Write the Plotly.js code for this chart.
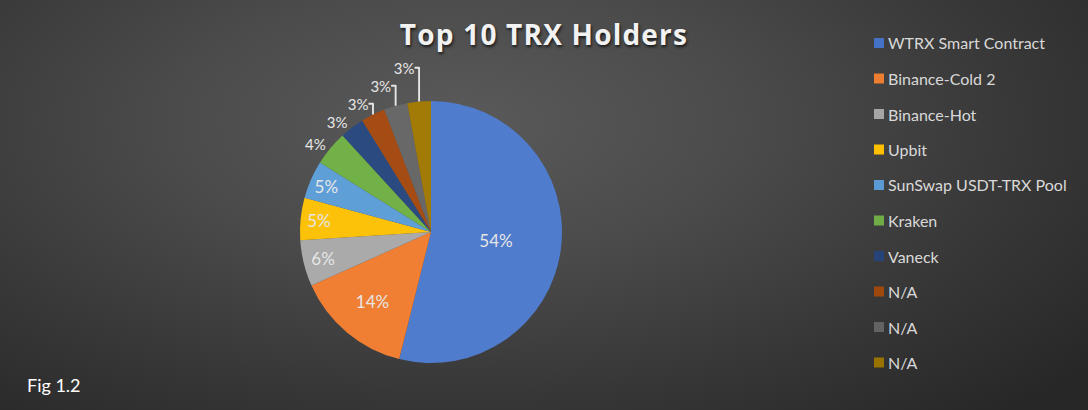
<!DOCTYPE html>
<html>
<head>
<meta charset="utf-8">
<script src="https://cdn.plot.ly/plotly-3.0.1.min.js"></script>
<style>
  html, body { margin: 0; padding: 0; }
  body {
    width: 1088px; height: 410px; overflow: hidden;
    background: radial-gradient(ellipse 75% 95% at 42% 30%, #5a5a5a 0%, #4b4b4b 35%, #373737 70%, #272727 100%);
  }
  #chart { width: 1088px; height: 410px; }
  .gtitle { letter-spacing: 1.2px; }
</style>
</head>
<body>
<div id="chart"></div>
<script>
// ---- data ----
const labels = ["WTRX Smart Contract", "Binance-Cold 2", "Binance-Hot", "Upbit",
  "SunSwap USDT-TRX Pool", "Kraken", "Vaneck", "N/A", "N/A ", "N/A  "];
const legendLabels = ["WTRX Smart Contract", "Binance-Cold 2", "Binance-Hot", "Upbit",
  "SunSwap USDT-TRX Pool", "Kraken", "Vaneck", "N/A", "N/A", "N/A"];
const shares = [53.9, 14.4, 5.7, 5.2, 4.7, 4.3, 3.0, 3.0, 2.9, 2.9];
const sliceColors = ["#4f7ccc", "#f07f33", "#aaaaaa", "#fcc20a", "#5e9fd8", "#72b048",
  "#2a4a80", "#a54c14", "#686868", "#a27a06"];
const legendColors = ["#4472c4", "#ed7d31", "#a5a5a5", "#ffc000", "#5b9bd5", "#70ad47",
  "#264478", "#9e480e", "#636363", "#997300"];
const textPos = ["inside", "inside", "inside", "inside", "inside",
  "outside", "outside", "outside", "outside", "outside"];

const W = 1088, H = 410;
const FONT = "Lato, 'Open Sans', sans-serif";

const trace = {
  type: "pie",
  labels: labels,
  values: shares,
  sort: false,
  direction: "clockwise",
  rotation: 0,
  marker: { colors: sliceColors, line: { width: 0 } },
  texttemplate: "%{percent:.0%}",
  textposition: textPos,
  insidetextorientation: "horizontal",
  textfont: { family: FONT, size: 17, color: "#e6e6e6" },
  outsidetextfont: { family: FONT, size: 15, color: "#e6e6e6" },
  insidetextfont: { family: FONT, size: 17, color: "#e6e6e6" },
  hoverinfo: "label+percent",
  showlegend: false,
  domain: { x: [300 / W, 562 / W], y: [(H - 363) / H, (H - 101) / H] },
  automargin: false
};

// legend built from arrays
const annotations = [];
const shapes = [];
const legendTop = 43, legendStep = 35.5;
legendLabels.forEach((lab, i) => {
  const yc = legendTop + i * legendStep;
  shapes.push({
    type: "rect", xref: "paper", yref: "paper",
    x0: 874 / W, x1: 884 / W, y0: (H - (yc + 5)) / H, y1: (H - (yc - 5)) / H,
    fillcolor: legendColors[i], line: { width: 0 }
  });
  annotations.push({
    xref: "paper", yref: "paper", x: 886 / W, y: (H - yc) / H,
    xanchor: "left", yanchor: "middle", showarrow: false,
    text: lab, font: { family: FONT, size: 16, color: "#d9d9d9" }
  });
});
annotations.push({
  xref: "paper", yref: "paper", x: 25 / W, y: (H - 385) / H,
  xanchor: "left", yanchor: "middle", showarrow: false,
  text: "Fig 1.2", font: { family: FONT, size: 18, color: "#ffffff" }
});

const layout = {
  width: W, height: H,
  margin: { l: 0, r: 0, t: 0, b: 0 },
  paper_bgcolor: "rgba(0,0,0,0)",
  plot_bgcolor: "rgba(0,0,0,0)",
  title: {
    text: "<b>Top 10 TRX Holders</b>",
    x: 0.5, xanchor: "center", xref: "paper",
    y: (H - 35) / H, yanchor: "middle", yref: "paper",
    font: { family: "'Open Sans', Lato, sans-serif", size: 28, color: "#f2f2f2", shadow: "1px 2px 3px rgba(0,0,0,0.7)" }
  },
  showlegend: false,
  shapes: shapes,
  annotations: annotations
};

Plotly.newPlot("chart", [trace], layout, { displayModeBar: false, staticPlot: true });
</script>
</body>
</html>
